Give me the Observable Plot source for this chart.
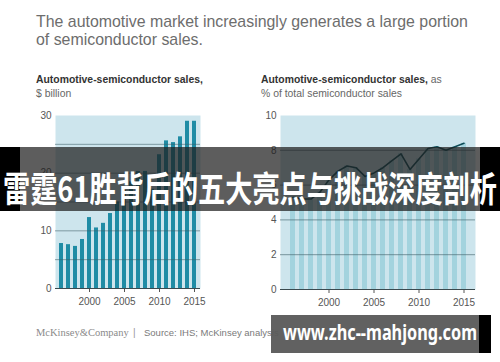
<!DOCTYPE html>
<html><head><meta charset="utf-8">
<script src="https://cdn.jsdelivr.net/npm/d3@7"></script>
<script src="https://cdn.jsdelivr.net/npm/@observablehq/plot@0.6"></script>
<style>
body{margin:0;background:#fff;}
#wrap{position:relative;width:500px;height:362px;overflow:hidden;font-family:"Liberation Sans",Arial,sans-serif;}
.abs{position:absolute;left:0;top:0;}
</style></head><body><div id="wrap"></div>
<script>
const years = [1996,1997,1998,1999,2000,2001,2002,2003,2004,2005,2006,2007,2008,2009,2010,2011,2012,2013,2014,2015];
const salesBillion = [7.8,7.6,7.3,8.5,12.3,10.5,11.3,13.0,15.0,17.0,18.5,20.3,20.3,17.2,23.2,25.6,25.3,26.3,29.0,29.0];
const sharePercent = [5.3,5.2,5.2,5.6,6.3,6.8,7.1,7.0,6.5,6.7,7.0,7.4,7.8,6.9,7.5,8.1,8.2,8.0,8.2,8.4];
const xTicks = [2000,2005,2010,2015];
const leftYTicks = [0,10,20,30];
const rightYTicks = [0,2,4,6,8,10];

const title = ["The automotive market increasingly generates a large portion", "of semiconductor sales."];
const leftSub = ["Automotive-semiconductor sales,", "", "$ billion"];
const rightSub = ["Automotive-semiconductor sales,", " as", "% of total semiconductor sales"];
const footerBrand = "McKinsey&Company";
const footerSource = "Source: IHS; McKinsey analysis";
const bannerText = "雷霆61胜背后的五大亮点与挑战深度剖析";
const watermarkText = "www.zhc--mahjong.com";

const leftData = years.map((y,i)=>({year:y, value:salesBillion[i]}));
const rightData = years.map((y,i)=>({year:y, value:sharePercent[i]}));

const wrap = document.getElementById("wrap");
const NS = "http://www.w3.org/2000/svg";

const bg = document.createElementNS(NS,"svg");
bg.setAttribute("width",500); bg.setAttribute("height",362); bg.setAttribute("class","abs");
function txt(svg, x, y, parts, attrs){
  const t = document.createElementNS(NS,"text");
  t.setAttribute("x",x); t.setAttribute("y",y);
  for (const k in attrs) t.setAttribute(k, attrs[k]);
  for (const p of parts){
    const s = document.createElementNS(NS,"tspan");
    s.textContent = p.text;
    for (const k in (p.attrs||{})) s.setAttribute(k, p.attrs[k]);
    t.appendChild(s);
  }
  svg.appendChild(t);
  return t;
}
const sans = "Liberation Sans, Arial, sans-serif";
txt(bg,36,27,[{text:title[0]}],{"font-family":sans,"font-size":15.9,"fill":"#6d6d6d"});
txt(bg,36,45,[{text:title[1]}],{"font-family":sans,"font-size":15.9,"fill":"#6d6d6d"});
txt(bg,36,83,[{text:leftSub[0],attrs:{"font-weight":"bold","fill":"#333"}},{text:leftSub[1]}],{"font-family":sans,"font-size":10.4,"fill":"#666"});
txt(bg,36,97,[{text:leftSub[2]}],{"font-family":sans,"font-size":10.4,"fill":"#666"});
txt(bg,261,83,[{text:rightSub[0],attrs:{"font-weight":"bold","fill":"#333"}},{text:rightSub[1]}],{"font-family":sans,"font-size":10.4,"fill":"#666"});
txt(bg,261,97,[{text:rightSub[2]}],{"font-family":sans,"font-size":10.4,"fill":"#666"});
txt(bg,36,336,[{text:footerBrand}],{"font-family":"Liberation Serif, serif","font-size":10.5,"fill":"#8a8a8a"});
txt(bg,133,336,[{text:"|"}],{"font-family":sans,"font-size":10,"fill":"#999"});
txt(bg,144,336,[{text:footerSource}],{"font-family":sans,"font-size":9.5,"fill":"#7a7a7a"});
wrap.appendChild(bg);

const axisStyle = {fontFamily: sans, fontSize: "10px", color: "#555", background: "transparent", overflow:"visible"};
const yearFmt = d => String(d);

const left = Plot.plot({
  width: 250, height: 210,
  marginTop: 10, marginBottom: 27, marginLeft: 55, marginRight: 50,
  x: {type: "band", domain: years, padding: 0.45, ticks: xTicks, tickFormat: yearFmt, tickSize: 4, tickPadding: 5, label: null},
  y: {domain: [0,30], ticks: leftYTicks, tickSize: 0, tickPadding: 4, label: null},
  style: axisStyle,
  marks: [
    Plot.frame({fill: "#cde5ed", stroke: null}),
    Plot.barY(leftData, {x: "year", y: "value", fill: "#1f8ca5"}),
    Plot.ruleY([5,10,15,20,25], {stroke: "#3d5d66", strokeOpacity: 0.55}),
    Plot.ruleY([0], {stroke: "#3a4a4f", strokeWidth: 1.2})
  ]
});
left.style.position = "absolute"; left.style.left = "0px"; left.style.top = "105px";
wrap.appendChild(left);

const right = Plot.plot({
  width: 250, height: 210,
  marginTop: 10, marginBottom: 26, marginLeft: 30, marginRight: 25,
  x: {type: "band", domain: years, padding: 0.5, ticks: xTicks, tickFormat: yearFmt, tickSize: 4, tickPadding: 5, label: null},
  y: {domain: [0,10], ticks: rightYTicks, tickSize: 0, tickPadding: 4, label: null},
  style: axisStyle,
  marks: [
    Plot.frame({fill: "#cde5ed", stroke: null}),
    Plot.barY(rightData, {x: "year", y: "value", fill: "#a3d3de"}),
    Plot.ruleY([2,4,6,8], {stroke: "#3d5d66", strokeOpacity: 0.6}),
    Plot.ruleY([0], {stroke: "#3a4a4f", strokeWidth: 1.2}),
    Plot.line(rightData, {x: "year", y: "value", stroke: "#0f4d58", strokeWidth: 1.6})
  ]
});
right.style.position = "absolute"; right.style.left = "250px"; right.style.top = "105px";
wrap.appendChild(right);

const ov = document.createElementNS(NS,"svg");
ov.setAttribute("width",500); ov.setAttribute("height",362); ov.setAttribute("class","abs");
function rect(x,y,w,h,fill){
  const r = document.createElementNS(NS,"rect");
  r.setAttribute("x",x); r.setAttribute("y",y); r.setAttribute("width",w); r.setAttribute("height",h); r.setAttribute("fill",fill);
  ov.appendChild(r);
}
rect(0,147,20,64,"#000");
rect(480,147,20,64,"#000");
rect(20,147,460,64,"rgba(30,30,30,0.72)");
txt(ov,3,202,[{text:bannerText}],{"font-family":"Noto Sans CJK SC, sans-serif","font-size":35,"font-weight":"bold","fill":"#fff","textLength":494,"lengthAdjust":"spacingAndGlyphs"});
rect(271,315,208,38,"rgba(88,88,88,0.95)");
rect(479,315,12,38,"#000");
txt(ov,283,340,[{text:watermarkText}],{"font-family":"Noto Sans, sans-serif","font-size":21,"font-weight":"bold","fill":"#fff","textLength":194,"lengthAdjust":"spacingAndGlyphs"});
wrap.appendChild(ov);
</script>
</body></html>
